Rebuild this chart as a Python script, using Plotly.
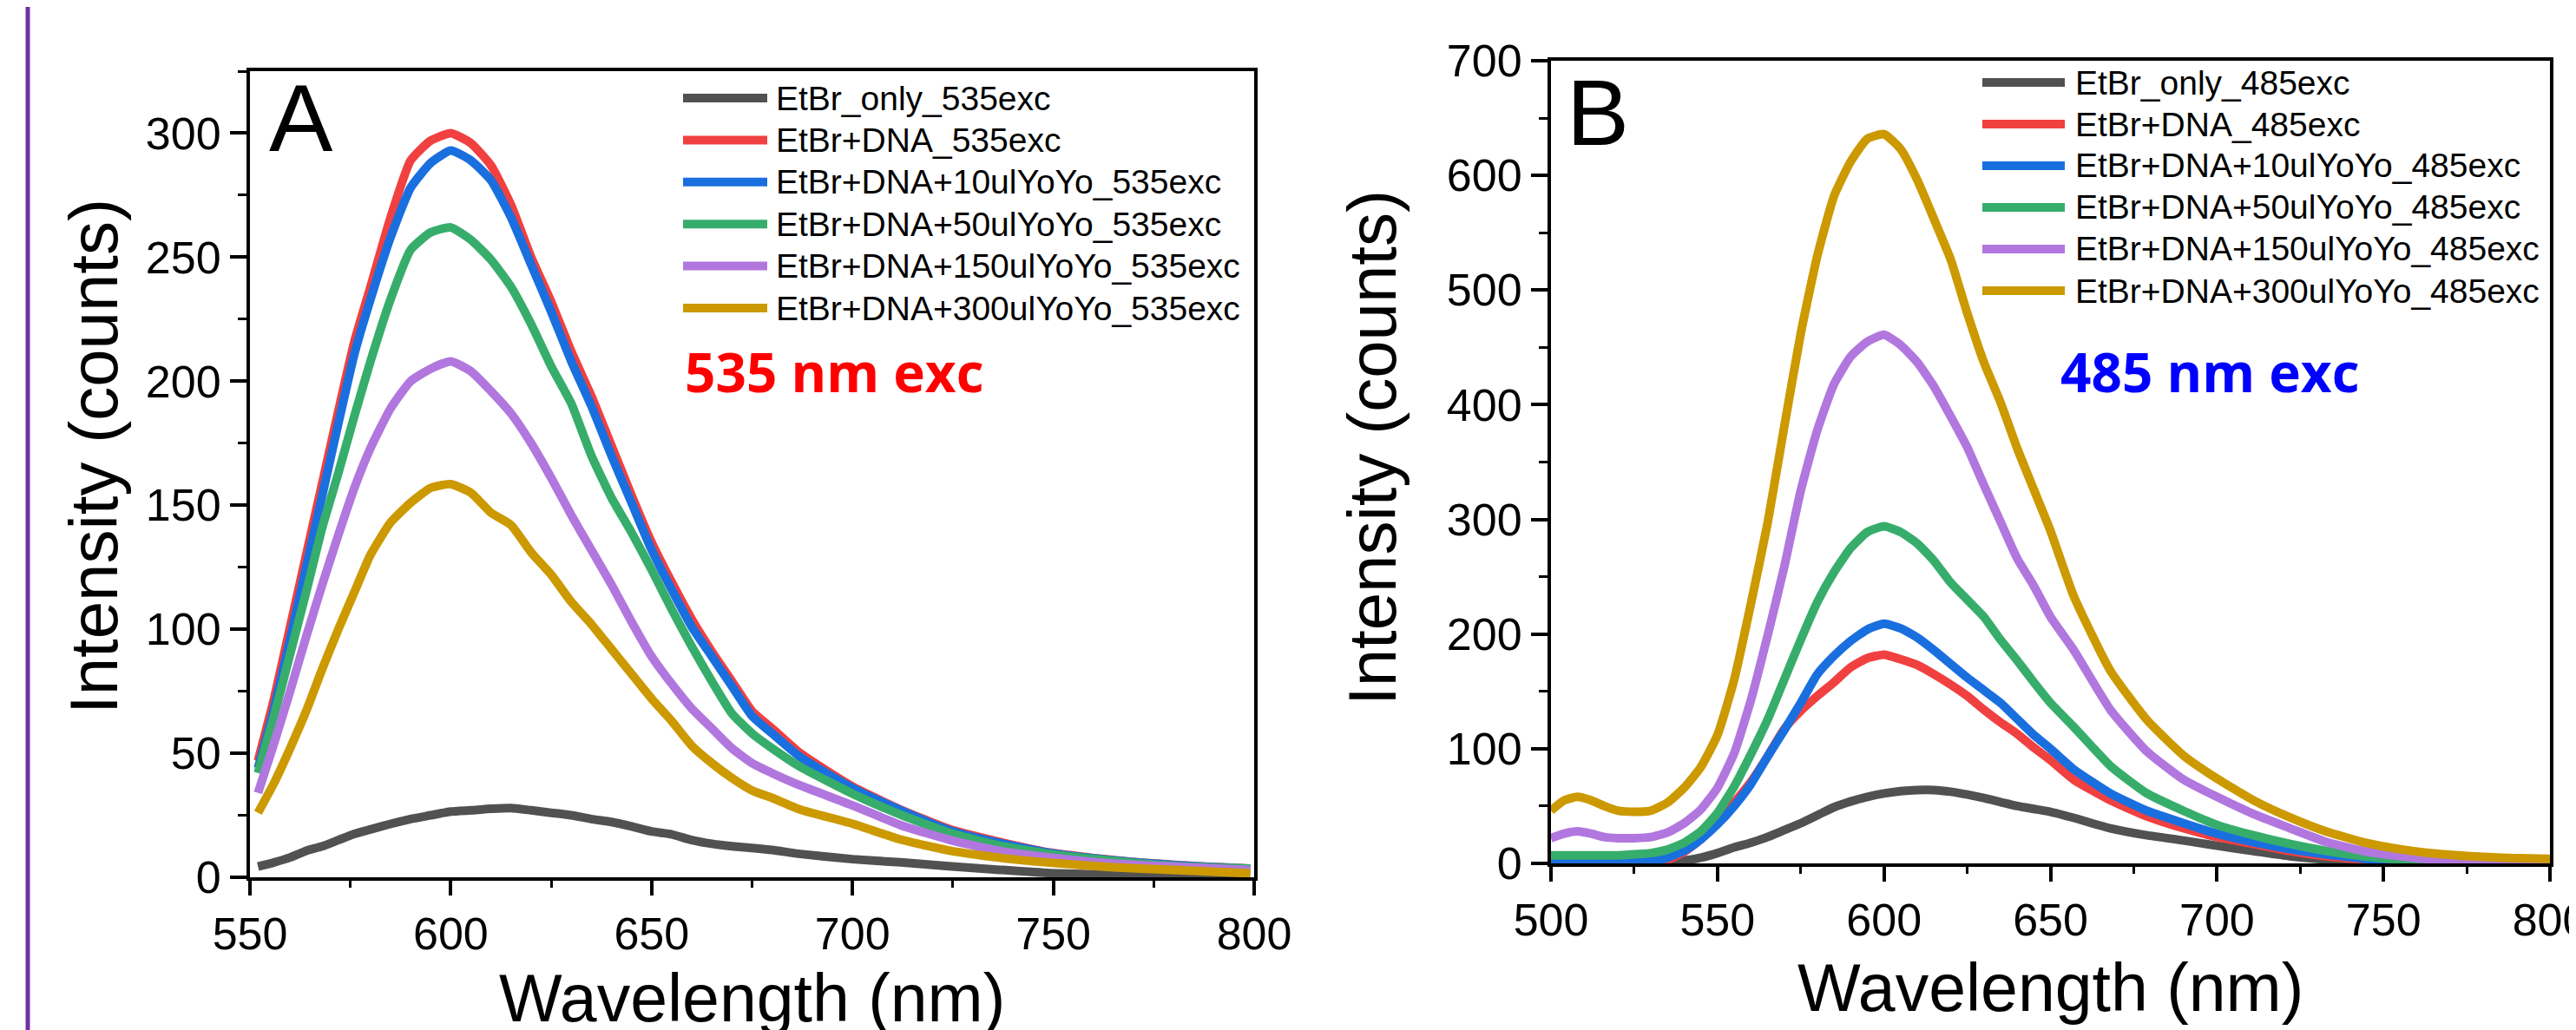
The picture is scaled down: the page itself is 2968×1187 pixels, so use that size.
import plotly.graph_objects as go

W, H = 2968, 1187

# ---------------- Panel A data (535 nm excitation) ----------------
wl_A = [552, 556, 560, 564, 568, 572, 576, 580, 585, 590, 595, 600, 605, 610, 615, 620,
        625, 630, 635, 640, 645, 650, 655, 660, 665, 670, 675, 680, 687, 700, 712, 724,
        736, 749, 765, 781, 799]
A_etbr_only = [4.3, 6, 8, 10.7, 12.5, 15, 17.5, 19.3, 21.5, 23.5, 25, 26.5, 27, 27.6, 27.9, 27,
               26, 25, 23.5, 22.3, 20.5, 18.5, 17.3, 15, 13.5, 12.5, 11.8, 11, 9.4, 7.3, 6, 4.5,
               3.1, 1.7, 1, 0.7, 0.5]
A_dna = [47, 72, 101, 130, 159, 188, 216, 238, 266, 289, 297, 300, 296, 287, 271, 250,
         232, 212, 194, 174, 154, 135, 119, 104, 91, 79, 67, 60, 50, 36.6, 27.3, 19.5,
         14.5, 10, 6.9, 4.9, 3.5]
A_yoyo10 = [44, 68, 96, 125, 154, 183, 211, 233, 258, 278, 288, 293, 289, 281, 266, 247,
            228, 208, 190, 170, 151, 132, 116, 101, 89, 77, 65, 58, 48.5, 36, 27, 19,
            14, 9.8, 6.8, 4.8, 3.4]
A_yoyo50 = [42, 65, 90, 115, 141, 163, 186, 208, 233, 253, 260, 262, 257, 249, 238, 223,
            206, 191, 170, 153, 139, 124, 108, 93, 79, 66, 58, 52, 44.5, 33.7, 25.2, 18,
            13, 9.4, 6.6, 4.5, 3.5]
A_yoyo150 = [34, 54, 75, 97, 118, 138, 157, 173, 189, 200, 205, 208, 204, 196, 187, 175,
             161, 146, 132, 118, 103, 89, 78, 68, 60, 52, 46, 42, 37, 29, 21, 15.2,
             10.8, 8, 5.5, 4.2, 2.9]
A_yoyo300 = [26, 38, 52, 67, 84, 100, 115, 130, 143, 151, 157, 158.5, 155, 147, 142, 131,
             122, 111, 102, 92, 82, 72, 63, 53, 46, 40, 35, 32, 27.3, 21.6, 15.2, 10.8,
             8, 5.9, 4, 2.9, 1.6]

# ---------------- Panel B data (485 nm excitation) ----------------
wl_B = [500, 504, 508, 512, 516, 520, 525, 530, 535, 540, 545, 550, 555, 560, 565, 570,
        575, 580, 585, 590, 595, 600, 605, 610, 615, 620, 625, 630, 635, 640, 645, 650,
        657, 668, 679, 690, 700, 711, 722, 733, 744, 755, 765, 776, 787, 800]
B_etbr_only = [0, 0, 0, 0, 0, 0, 0, 0, 1, 2.5, 5, 9, 14, 18, 23, 29,
               35, 42, 49, 54, 58, 61, 63, 64, 64, 62.5, 60, 57, 53.5, 50, 47.5, 45,
               39.7, 30.6, 24.5, 20, 15.4, 10.8, 6.3, 3.3, 1.7, 0.5, 0, 0, 0, 0]
B_dna = [0, 0, 0, 0, 0, 0, 0, 0.5, 3, 10, 21, 36, 53, 71, 93, 117,
         133, 146, 158, 171, 179, 182, 178, 173, 165, 156, 146, 134, 123, 113, 101, 90,
         73, 55, 41, 30.6, 23, 17, 10.8, 6.3, 3.3, 1, 0.3, 0, 0, 0]
B_yoyo10 = [1, 1, 1, 1, 1, 1, 1, 2, 5, 11, 21, 34, 50, 69, 93, 116,
            140, 165, 181, 194, 204, 209, 205, 197, 186, 174, 162, 151, 140, 126, 112, 100,
            82, 61, 45.8, 35, 26, 18.5, 12.4, 7.8, 4.2, 1.7, 0.8, 0.5, 0.3, 0.2]
B_yoyo50 = [7, 7, 7, 7, 7, 7, 8, 9, 12, 18, 28, 44, 67, 95, 125, 160,
            195, 228, 254, 275, 289, 294, 289, 279, 264, 245, 230, 215, 195, 177, 158, 140,
            119, 85, 61, 45.8, 33.6, 24.5, 16.9, 10.8, 6.3, 3.3, 1.7, 0.8, 0.5, 0.3]
B_yoyo150 = [22, 26, 28, 26, 23, 22, 22, 23, 27, 35, 47, 66, 96, 142, 198, 258,
             325, 378, 418, 442, 455, 461, 452, 437, 416, 390, 363, 330, 298, 266, 242, 215,
             186, 134, 97.5, 73, 58, 43, 30.6, 18.5, 10.8, 6.3, 3.3, 1.7, 0.8, 0.5]
B_yoyo300 = [46, 55, 58, 55, 50, 46, 45, 46, 53, 66, 84, 112, 160, 226, 296, 380,
             462, 530, 582, 612, 632, 636, 623, 596, 562, 527, 480, 437, 402, 362, 326, 290,
             233, 168, 125, 94, 74, 55, 40, 27.6, 18.5, 12.4, 8.7, 6.3, 4.8, 3.9]

names_A = ["EtBr_only_535exc", "EtBr+DNA_535exc", "EtBr+DNA+10ulYoYo_535exc",
           "EtBr+DNA+50ulYoYo_535exc", "EtBr+DNA+150ulYoYo_535exc", "EtBr+DNA+300ulYoYo_535exc"]
names_B = ["EtBr_only_485exc", "EtBr+DNA_485exc", "EtBr+DNA+10ulYoYo_485exc",
           "EtBr+DNA+50ulYoYo_485exc", "EtBr+DNA+150ulYoYo_485exc", "EtBr+DNA+300ulYoYo_485exc"]
colors = ["#515151", "#F14040", "#1A6FDF", "#37AD6B", "#B177DE", "#CC9900"]

series_A = [A_etbr_only, A_dna, A_yoyo10, A_yoyo50, A_yoyo150, A_yoyo300]
series_B = [B_etbr_only, B_dna, B_yoyo10, B_yoyo50, B_yoyo150, B_yoyo300]

FONT = "Liberation Sans, Arial, Helvetica, sans-serif"
LW = 10


def px(x):
    return x / W


def py(y):
    return 1 - y / H


fig = go.Figure()
for name, ys, c in zip(names_A, series_A, colors):
    fig.add_trace(go.Scatter(x=wl_A, y=ys, name=name, mode="lines", xaxis="x", yaxis="y",
                             line=dict(color=c, width=LW, shape="spline", smoothing=0.5),
                             showlegend=False))
for name, ys, c in zip(names_B, series_B, colors):
    fig.add_trace(go.Scatter(x=wl_B, y=ys, name=name, mode="lines", xaxis="x2", yaxis="y2",
                             line=dict(color=c, width=LW, shape="spline", smoothing=0.5),
                             showlegend=False))

axis_common = dict(showgrid=False, zeroline=False, showline=True, linecolor="black",
                   linewidth=4, mirror=True, ticks="outside", tickcolor="black",
                   tickwidth=4, automargin=False, ticklabeloverflow="allow",
                   tickfont=dict(family=FONT, size=52, color="black"))

fig.update_layout(
    template="none",
    width=W, height=H, margin=dict(l=0, r=0, t=0, b=0, pad=0, autoexpand=False),
    paper_bgcolor="white", plot_bgcolor="white", showlegend=False,
    font=dict(family=FONT, color="black"),
    xaxis=dict(domain=[px(280), px(1437)], range=[550, 800], dtick=50, tick0=550, ticklen=17,
               anchor="y", minor=dict(dtick=25, ticks="outside", ticklen=8, tickwidth=3,
                                      tickcolor="black"), **axis_common),
    yaxis=dict(domain=[py(1003), py(74)], range=[0, 325], dtick=50, tick0=0, ticklen=19,
               anchor="x", minor=dict(dtick=25, ticks="outside", ticklen=10, tickwidth=3,
                                      tickcolor="black"), **axis_common),
    xaxis2=dict(domain=[px(1779), px(2930)], range=[500, 800], dtick=50, tick0=500, ticklen=17,
                anchor="y2", minor=dict(dtick=25, ticks="outside", ticklen=8, tickwidth=3,
                                        tickcolor="black"), **axis_common),
    yaxis2=dict(domain=[py(987), py(62)], range=[0, 700], dtick=100, tick0=0, ticklen=19,
                anchor="x2", minor=dict(dtick=50, ticks="outside", ticklen=10, tickwidth=3,
                                        tickcolor="black"), **axis_common),
)

ann = []
shapes = []

# panel letters
ann.append(dict(text="A", x=px(339), y=py(127), xref="paper", yref="paper", showarrow=False,
                xanchor="center", yanchor="middle", font=dict(family=FONT, size=110, color="black")))
ann.append(dict(text="B", x=px(1833), y=py(121), xref="paper", yref="paper", showarrow=False,
                xanchor="center", yanchor="middle", font=dict(family=FONT, size=108, color="black")))

# excitation labels
ann.append(dict(text="<b>535 nm exc</b>", x=px(953), y=py(420), xref="paper", yref="paper",
                showarrow=False, xanchor="center", yanchor="middle",
                font=dict(family="Open Sans, Noto Sans, sans-serif", size=62, color="#FF0000")))
ann.append(dict(text="<b>485 nm exc</b>", x=px(2538), y=py(420), xref="paper", yref="paper",
                showarrow=False, xanchor="center", yanchor="middle",
                font=dict(family="Open Sans, Noto Sans, sans-serif", size=62, color="#0000FF")))

# axis titles
for cx, cy in [(100, 518), (1573, 508)]:
    ann.append(dict(text="Intensity (counts)", x=px(cx), y=py(cy), xref="paper", yref="paper",
                    showarrow=False, textangle=-90, xanchor="center", yanchor="middle",
                    font=dict(family=FONT, size=78, color="black")))
for cx, cy in [(859, 1142), (2354, 1130)]:
    ann.append(dict(text="Wavelength (nm)", x=px(cx), y=py(cy), xref="paper", yref="paper",
                    showarrow=False, xanchor="center", yanchor="middle",
                    font=dict(family=FONT, size=77, color="black")))

# legends (drawn as line samples + labels)
for names, x0, x1, xt, y0, step in [(names_A, 779, 876, 884, 105, 48.4),
                                     (names_B, 2276, 2371, 2381, 87, 48.0)]:
    for i, (nm, c) in enumerate(zip(names, colors)):
        yy = y0 + i * step
        shapes.append(dict(type="line", xref="paper", yref="paper", x0=px(x0), x1=px(x1),
                           y0=py(yy), y1=py(yy), line=dict(color=c, width=LW)))
        ann.append(dict(text=nm, x=px(xt), y=py(yy), xref="paper", yref="paper", showarrow=False,
                        xanchor="left", yanchor="middle",
                        font=dict(family=FONT, size=39, color="black")))

# purple border line at left edge
shapes.append(dict(type="line", xref="paper", yref="paper", x0=px(24), x1=px(24), y0=0, y1=1,
                   line=dict(color="#7030A0", width=5)))

fig.update_layout(annotations=ann, shapes=shapes)
fig.write_html("out.html")
